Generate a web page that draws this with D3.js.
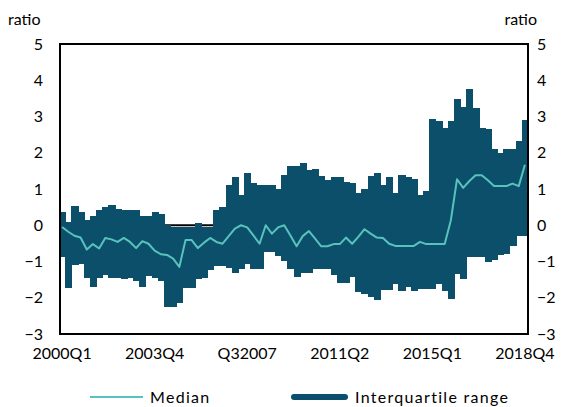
<!DOCTYPE html>
<html>
<head>
<meta charset="utf-8">
<script src="https://cdn.jsdelivr.net/npm/d3@7"></script>
<style>
  body { margin: 0; background: #fff; }
  svg text { font-family: Lato, "Open Sans", sans-serif; fill: #000; }
</style>
</head>
<body>
<div id="chart"></div>
<script>
// quarterly, 2000Q1 .. 2018Q4
const quarters = d3.range(2000, 2019).flatMap(y => [1, 2, 3, 4].map(q => y + "Q" + q))

const upperQuartile = [
  0.37, 0.09, 0.53, 0.37, 0.14, 0.25, 0.43, 0.49, 0.55, 0.44,
  0.43, 0.43, 0.43, 0.25, 0.25, 0.37, 0.30, 0.00, -0.06, -0.06,
  -0.06, -0.06, 0.07, -0.06, -0.06, 0.43, 0.49, 1.10, 1.33, 0.83,
  1.45, 1.17, 1.12, 1.12, 1.12, 1.01, 1.40, 1.64, 1.64, 1.73,
  1.52, 1.55, 1.36, 1.24, 1.33, 1.33, 1.20, 1.17, 0.89, 1.00,
  1.36, 1.44, 1.12, 1.33, 0.89, 1.40, 1.33, 1.28, 0.83, 0.94,
  2.94, 2.88, 2.67, 2.88, 3.47, 3.25, 3.75, 3.24, 2.67, 2.65,
  2.10, 2.00, 2.10, 2.10, 2.32, 2.90]

const lowerQuartile = [
  -0.88, -1.74, -1.10, -1.08, -1.46, -1.70, -1.46, -1.37, -1.46, -1.46,
  -1.47, -1.45, -1.55, -1.70, -1.40, -1.45, -1.55, -2.25, -2.25, -2.15,
  -1.74, -1.72, -1.47, -1.46, -1.24, -1.12, -1.12, -1.17, -1.33, -1.22,
  -1.08, -1.22, -1.22, -0.75, -0.74, -0.85, -0.98, -1.20, -1.43, -1.31,
  -1.31, -1.20, -1.20, -1.20, -1.36, -1.58, -1.58, -1.43, -1.84, -1.89,
  -1.98, -2.05, -1.79, -1.79, -1.63, -1.81, -1.70, -1.81, -1.76, -1.76,
  -1.76, -1.63, -1.81, -2.04, -1.35, -1.47, -0.88, -0.88, -0.88, -1.01,
  -0.97, -0.83, -0.78, -0.57, -0.30, -0.30]

const median = [
  -0.05, -0.18, -0.29, -0.34, -0.67, -0.52, -0.64, -0.35, -0.39, -0.46,
  -0.35, -0.46, -0.63, -0.44, -0.51, -0.70, -0.80, -0.82, -0.92, -1.15,
  -0.41, -0.41, -0.63, -0.48, -0.35, -0.46, -0.51, -0.30, -0.09, 0.00,
  -0.06, -0.28, -0.51, 0.00, -0.23, -0.06, 0.00, -0.28, -0.58, -0.30,
  -0.16, -0.37, -0.58, -0.58, -0.52, -0.52, -0.34, -0.51, -0.32, -0.11,
  -0.23, -0.34, -0.35, -0.51, -0.57, -0.57, -0.57, -0.57, -0.46, -0.52,
  -0.52, -0.52, -0.52, 0.14, 1.27, 1.03, 1.22, 1.38, 1.38, 1.24,
  1.08, 1.08, 1.08, 1.15, 1.08, 1.67]

const xTickQuarters = ["2000Q1", "2003Q4", "2007Q3", "2011Q2", "2015Q1", "2018Q4"]
const xTickLabels = ["2000Q1", "2003Q4", "Q32007", "2011Q2", "2015Q1", "2018Q4"]
const yTicks = [5, 4, 3, 2, 1, 0, -1, -2, -3]
const legendLabels = ["Median", "Interquartile range"]

const barColor = "#0b4f6b"
const medianColor = "#58c3bd"

const width = 564, height = 407
const plot = {left: 59, right: 528, top: 44, bottom: 334}

const svg = d3.select("#chart").append("svg")
  .attr("width", width)
  .attr("height", height)

const x = d3.scaleBand()
  .domain(quarters)
  .range([plot.left, plot.right])
  .padding(0)

const y = d3.scaleLinear()
  .domain([-3, 5])
  .range([plot.bottom, plot.top])

// zero line sits behind the bars
svg.append("line")
  .attr("x1", plot.left).attr("x2", plot.right)
  .attr("y1", y(0)).attr("y2", y(0))
  .attr("stroke", "#000")
  .attr("stroke-width", 2)

// bars overlap a little so no seams show between quarters
svg.append("g")
  .attr("shape-rendering", "crispEdges")
  .selectAll("rect")
  .data(quarters)
  .enter().append("rect")
  .attr("x", d => x(d))
  .attr("width", (d, i) => i === quarters.length - 1 ? x.bandwidth() : x.bandwidth() + 1)
  .attr("y", (d, i) => y(upperQuartile[i]))
  .attr("height", (d, i) => y(lowerQuartile[i]) - y(upperQuartile[i]))
  .attr("fill", barColor)

const line = d3.line()
  .x((d, i) => x(quarters[i]) + x.bandwidth() / 2)
  .y(d => y(d))

svg.append("path")
  .datum(median)
  .attr("d", line)
  .attr("fill", "none")
  .attr("stroke", medianColor)
  .attr("stroke-width", 2)
  .attr("stroke-linejoin", "round")

// frame
svg.append("rect")
  .attr("x", plot.left + 1)
  .attr("y", plot.top)
  .attr("width", plot.right - plot.left - 1)
  .attr("height", plot.bottom - plot.top)
  .attr("fill", "none")
  .attr("stroke", "#000")
  .attr("stroke-width", 2)

const xAxis = d3.axisBottom(x)
  .tickValues(xTickQuarters)
  .tickFormat((d, i) => xTickLabels[i])
  .tickSize(0)
  .tickPadding(14)

const yLeft = d3.axisLeft(y).tickValues(yTicks).tickSize(0).tickPadding(16)
const yRight = d3.axisRight(y).tickValues(yTicks).tickSize(0).tickPadding(9)

svg.append("g")
  .attr("transform", `translate(0, ${plot.bottom})`)
  .call(xAxis)
  .call(g => g.select(".domain").remove())

svg.append("g")
  .attr("transform", `translate(${plot.left}, 0)`)
  .call(yLeft)
  .call(g => g.select(".domain").remove())

svg.append("g")
  .attr("transform", `translate(${plot.right}, 0)`)
  .call(yRight)
  .call(g => g.select(".domain").remove())

svg.selectAll(".tick text")
  .style("font-size", "16px")
  .attr("fill", "#000")

svg.append("text").attr("x", 8).attr("y", 25).style("font-size", "16px").text("ratio")
svg.append("text").attr("x", 537).attr("y", 25).attr("text-anchor", "end").style("font-size", "16px").text("ratio")

// legend
const legend = svg.append("g")
legend.append("line")
  .attr("x1", 90).attr("x2", 143).attr("y1", 397).attr("y2", 397)
  .attr("stroke", medianColor).attr("stroke-width", 2)
legend.append("text")
  .attr("x", 150).attr("y", 403)
  .style("font-size", "16px").style("letter-spacing", "1.3px")
  .text(legendLabels[0])
legend.append("line")
  .attr("x1", 294).attr("x2", 345).attr("y1", 397).attr("y2", 397)
  .attr("stroke", barColor).attr("stroke-width", 6).attr("stroke-linecap", "round")
legend.append("text")
  .attr("x", 355).attr("y", 403)
  .style("font-size", "16px").style("letter-spacing", "1.3px")
  .text(legendLabels[1])
</script>
</body>
</html>
